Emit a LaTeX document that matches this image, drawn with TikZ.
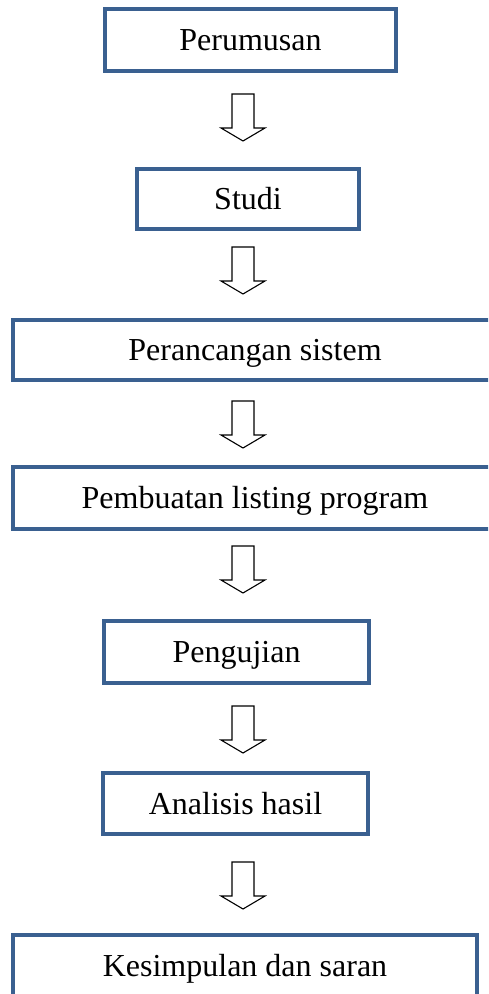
\documentclass[tikz,border=0pt]{standalone}
\usepackage{fontspec}
\setmainfont{Liberation Serif}
\definecolor{boxblue}{RGB}{58,96,144}
\begin{document}
\begin{tikzpicture}[x=0.5pt,y=-0.5pt,
  stepbox/.style={draw=boxblue, line width=1.6pt, rectangle, inner sep=0pt,
    font=\fontsize{16}{19}\selectfont, text height=10.8pt, text depth=0pt},
  blockarrow/.style={draw=black, line width=0.55pt, fill=white, line join=miter}]
\useasboundingbox (0,0) rectangle (488,994);
\clip (0,0) rectangle (488,994);
\node[stepbox, minimum width=145.5pt, minimum height=31pt] (b1) at (250.5,40) {Perumusan};
\node[stepbox, minimum width=111pt, minimum height=30pt] (b2) at (248,199) {Studi};
\node[stepbox, minimum width=242pt, minimum height=30pt] (b3) at (255,350) {Perancangan sistem};
\node[stepbox, minimum width=242pt, minimum height=31pt] (b4) at (255,498) {Pembuatan listing program};
\node[stepbox, minimum width=132.5pt, minimum height=31pt] (b5) at (236.5,652) {Pengujian};
\node[stepbox, minimum width=132.5pt, minimum height=30.5pt] (b6) at (235.5,803.5) {Analisis hasil};
\node[stepbox, minimum width=232pt, minimum height=31pt] (b7) at (245,966) {Kesimpulan dan saran};
\foreach \t/\n in {94/a1,247/a2,401/a3,546/a4,706/a5,862/a6}{
  \draw[blockarrow] (232,\t) -- (254,\t) -- (254,\t+34) -- (265,\t+34)
    -- (243,\t+47) coordinate (\n) -- (221,\t+34) -- (232,\t+34) -- cycle;
}
\end{tikzpicture}
\end{document}
